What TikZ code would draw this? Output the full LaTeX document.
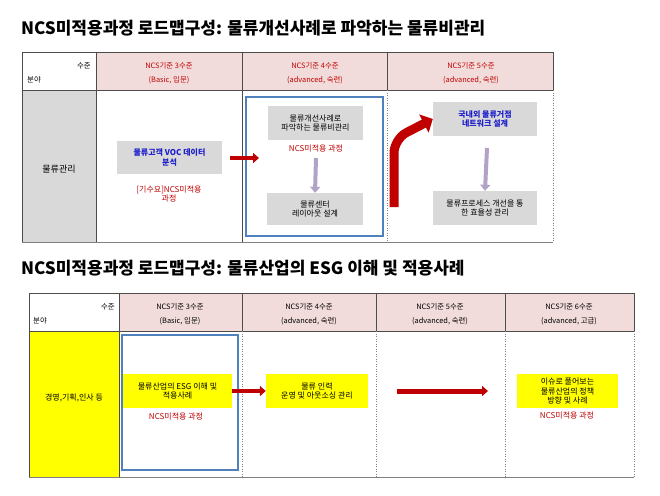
\documentclass[tikz,border=0pt]{standalone}
\usepackage{fontspec}
\setmainfont{Noto Sans CJK KR}
\usetikzlibrary{arrows.meta}
\definecolor{pinkh}{HTML}{F2DCDB}
\definecolor{grayb}{HTML}{D9D9D9}
\definecolor{redt}{HTML}{C00000}
\definecolor{bluet}{HTML}{1F1FCC}
\definecolor{blueb}{HTML}{4F81BD}
\definecolor{purp}{HTML}{B3A2C7}
\definecolor{yel}{HTML}{FFFF00}
\tikzset{
 tt/.style={font=\fontsize{8}{9.2}\selectfont, align=center, inner sep=0pt},
 hd/.style={font=\fontsize{7.4}{8.5}\selectfont, align=center, inner sep=0pt},
 gbox/.style={fill=grayb, draw=none},
 redarrow/.style={draw=redt, line width=4pt, -{Triangle[length=6pt,width=10pt]}},
 purparrow/.style={draw=purp, line width=4pt, -{Triangle[length=6pt,width=10pt]}},
 dotl/.style={draw=gray, dotted, line width=0.5pt},
 soll/.style={draw=black!70, line width=0.6pt},
}
\begin{document}
\begin{tikzpicture}[x=1pt,y=-1pt]
\useasboundingbox (0,0) rectangle (660,495);
\fill[white] (0,0) rectangle (660,495);
% ===== Title 1
\node[anchor=west, inner sep=0pt, font=\fontsize{17}{19}\bfseries] (t1) at (21,28) {NCS미적용과정 로드맵구성: 물류개선사례로 파악하는 물류비관리};
% table 1
\fill[pinkh] (96,52) rectangle (553,90);
\fill[grayb] (22,90) rectangle (96,242);
\draw[soll] (22,52) -- (553,52);
\draw[soll] (22,90) -- (553,90);
\draw[draw=gray, line width=1pt] (22,242) -- (553,242);
\draw[soll] (22,52) -- (22,242);
\draw[soll] (96,52) -- (96,242);
\draw[soll] (242,52) -- (242,242);
\draw[soll] (387,52) -- (387,90);
\draw[soll] (553,52) -- (553,90);
\draw[dotl] (387,90) -- (387,242);
\draw[dotl] (553,90) -- (553,242);
\node[hd, anchor=east] (h1a) at (91,66) {수준};
\node[hd, anchor=west] (h1b) at (27,80) {분야};
\node[hd, text=redt] (c13) at (169,73) {NCS기준 3수준\\[5pt](Basic, 입문)};
\node[hd, text=redt] (c14) at (315,73) {NCS기준 4수준\\[5pt](advanced, 숙련)};
\node[hd, text=redt] (c15) at (471,73) {NCS기준 5수준\\[5pt](advanced, 숙련)};
\node[tt, font=\fontsize{9}{10}\selectfont] (f1) at (59,169) {물류관리};
\node[gbox, tt, text=bluet, minimum width=105pt, minimum height=33pt, font=\fontsize{8}{9.2}\bfseries] (b1) at (169.5,157.5) {물류고객 VOC 데이터\\분석};
\node[tt, text=redt] (r1) at (169,194) {[기수요]NCS미적용\\과정};
\draw[blueb, line width=1.2pt] (246,97) rectangle (383,236);
\node[gbox, tt, minimum width=95pt, minimum height=34pt] (b2) at (315.5,123) {물류개선사례로\\파악하는 물류비관리};
\node[tt, text=redt] (r2) at (316,149) {NCS미적용 과정};
\node[gbox, tt, minimum width=96pt, minimum height=32pt] (b3) at (315,209) {물류센터\\레이아웃 설계};
\node[gbox, tt, text=bluet, minimum width=104pt, minimum height=34pt, font=\fontsize{8}{9.2}\bfseries] (b4) at (485,119) {국내외 물류거점\\네트워크 설계};
\node[gbox, tt, minimum width=104pt, minimum height=34pt] (b5) at (485,208) {물류프로세스 개선을 통\\한 효율성 관리};
\draw[redarrow] (b1.east |- 0,158) ++(8,0) coordinate (a1s) -- (259,158) coordinate (a1e);
\draw[purparrow] (316,158) coordinate (p1s) -- (b3.north);
\draw[purparrow] (487,148) coordinate (p2s) -- (b5.north);
\coordinate (ba) at (394,207);
\draw[draw=redt, line width=9pt, rounded corners=14pt, -{Triangle[length=10pt,width=20pt]}] (ba) -- (394,139) -- (b4.west);
% ===== Title 2
\node[anchor=west, inner sep=0pt, font=\fontsize{17}{19}\bfseries] (t2) at (21,268) {NCS미적용과정 로드맵구성: 물류산업의 ESG 이해 및 적용사례};
\fill[pinkh] (119,293) rectangle (634,331);
\fill[yel] (29,331) rectangle (119,477);
\draw[soll] (29,293) -- (634,293);
\draw[soll] (29,331) -- (634,331);
\draw[draw=gray, line width=1pt] (29,477) -- (634,477);
\draw[soll] (29,293) -- (29,477);
\draw[soll] (119,293) -- (119,477);
\foreach \x in {242,376,505,634}{
 \draw[soll] (\x,293) -- (\x,331);
 \draw[dotl] (\x,331) -- (\x,477);
}
\node[hd, anchor=east] (h2a) at (115,307) {수준};
\node[hd, anchor=west] (h2b) at (33,321) {분야};
\node[hd] (c23) at (180,314) {NCS기준 3수준\\[5pt](Basic, 입문)};
\node[hd] (c24) at (309,314) {NCS기준 4수준\\[5pt](advanced, 숙련)};
\node[hd] (c25) at (440,314) {NCS기준 5수준\\[5pt](advanced, 숙련)};
\node[hd] (c26) at (569,314) {NCS기준 6수준\\[5pt](advanced, 고급)};
\node[tt] (f2) at (74,398) {경영,기획,인사 등};
\draw[blueb, line width=1.2pt] (122,335) rectangle (238,470);
\node[fill=yel, tt, minimum width=109pt, minimum height=34pt] (y1) at (177.5,391) {물류산업의 ESG 이해 및\\적용사례};
\node[tt, text=redt] (r3) at (176,417) {NCS미적용 과정};
\node[fill=yel, tt, minimum width=102pt, minimum height=34pt] (y2) at (317,391) {물류 인력\\운영 및 아웃소싱 관리};
\node[fill=yel, tt, minimum width=101pt, minimum height=34pt] (y3) at (567.5,391) {이슈로 풀어보는\\물류산업의 정책\\방향 및 사례};
\node[tt, text=redt] (r4) at (567,416) {NCS미적용 과정};
\draw[redarrow] (y1.east) -- (y2.west);
\coordinate (l1) at (397,391);
\coordinate (l2) at (488,391);
\draw[redarrow, line width=5pt] (l1) -- (l2);
\end{tikzpicture}
\end{document}
